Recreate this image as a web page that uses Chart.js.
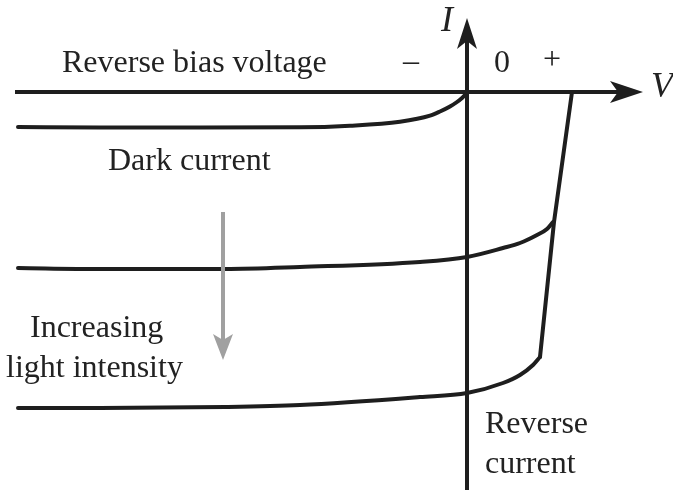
<!DOCTYPE html>
<html>
<head>
<meta charset="utf-8">
<script src="https://cdn.jsdelivr.net/npm/chart.js@4"></script>
<style>
  html, body { margin: 0; padding: 0; background: #ffffff; }
  #wrap { width: 673px; height: 490px; position: relative; }
</style>
</head>
<body>
<div id="wrap"><canvas id="ivChart"></canvas></div>
<script>
/* ------------------------------------------------------------
   Photodiode I-V characteristic: dark curve plus two lit curves.
   Units are arbitrary (V, I); origin where the axes cross.
------------------------------------------------------------ */

// Dark current curve (reverse bias side, runs into the origin)
var darkV = [-44.9, -36.7, -26.7, -16.7, -11.7, -6.7, -3.7, -2.7, -1.7, -1.0, -0.5, -0.2, 0];
var darkI = [-3.5, -3.55, -3.55, -3.53, -3.37, -2.97, -2.37, -1.95, -1.45, -1.0, -0.6, -0.3, 0];

// Medium light intensity
var midV = [-44.9, -36.7, -24.2, -16.7, -4.7, 0, 3.6, 5.3, 7.0, 8.0, 8.6];
var midI = [-17.6, -17.7, -17.7, -17.5, -17.0, -16.5, -15.6, -15.1, -14.3, -13.7, -13.0];

// High light intensity
var highV = [-44.9, -36.7, -24.2, -16.7, -4.7, 0, 3.6, 5.3, 6.6, 7.3];
var highI = [-31.6, -31.6, -31.5, -31.3, -30.5, -30.1, -29.1, -28.3, -27.3, -26.5];

// Forward side: the steep segment linking the curves
var fwdV = [10.5, 8.7, 7.3];
var fwdI = [0, -13.0, -26.5];

// View window and axis extents
var V_MIN = -46.7, V_MAX = 20.6;
var I_MIN = -39.8, I_MAX = 9.2;
var V_AXIS = [-45.2, 17.6];   // horizontal axis from / to (arrow tip)
var I_AXIS = [-39.8, 7.4];    // vertical axis from / to (arrow tip)

// Grey "increasing light" arrow
var lightArrowV = -24.4;
var lightArrowI = [-12.0, -26.8];

var INK = '#1e1e1e';
var SERIF = '"Liberation Serif", "DejaVu Serif", serif';

function pts(xs, ys) {
  return xs.map(function (x, i) { return { x: x, y: ys[i] }; });
}

function curve(label, xs, ys, smooth) {
  return {
    label: label,
    data: pts(xs, ys),
    showLine: true,
    borderColor: INK,
    borderWidth: 4,
    pointRadius: 0,
    fill: false,
    cubicInterpolationMode: smooth ? 'monotone' : 'default',
    tension: 0,
    borderCapStyle: 'round',
    borderJoinStyle: 'round'
  };
}

/* text placed in data units: [text, V, I(baseline), font, align] */
var texts = [
  ['Reverse bias voltage', -40.5, 2.0, '32px ' + SERIF, 'left'],
  ['\u2013', -6.4, 2.1, '32px ' + SERIF, 'left'],
  ['0', 2.7, 2.0, '32px ' + SERIF, 'left'],
  ['+', 7.6, 2.3, '32px ' + SERIF, 'left'],
  ['I', -2.6, 6.1, 'italic 36px ' + SERIF, 'left'],
  ['V', 18.4, -0.5, 'italic 36px ' + SERIF, 'left'],
  ['Dark current', -35.9, -7.8, '32px ' + SERIF, 'left'],
  ['Increasing', -43.7, -24.5, '32px ' + SERIF, 'left'],
  ['light intensity', -46.1, -28.5, '32px ' + SERIF, 'left'],
  ['Reverse', 1.8, -34.1, '32px ' + SERIF, 'left'],
  ['current', 1.8, -38.1, '32px ' + SERIF, 'left']
];

// barbed arrow head: tip at (tx,ty), pointing along angle a
function arrowHead(ctx, tx, ty, a, len, half, notch, color) {
  ctx.save();
  ctx.translate(tx, ty);
  ctx.rotate(a);
  ctx.beginPath();
  ctx.moveTo(0, 0);
  ctx.lineTo(-len, -half);
  ctx.lineTo(-len + notch, 0);
  ctx.lineTo(-len, half);
  ctx.closePath();
  ctx.fillStyle = color;
  ctx.fill();
  ctx.restore();
}

var decorPlugin = {
  id: 'decor',
  afterDatasetsDraw: function (chart) {
    var ctx = chart.ctx;
    var sx = chart.scales.x, sy = chart.scales.y;
    var x0 = sx.getPixelForValue(0), y0 = sy.getPixelForValue(0);

    ctx.save();
    ctx.strokeStyle = INK;
    ctx.lineWidth = 4;

    // V axis
    var vx1 = sx.getPixelForValue(V_AXIS[0]);
    var vx2 = sx.getPixelForValue(V_AXIS[1]);
    ctx.beginPath();
    ctx.moveTo(vx1, y0);
    ctx.lineTo(vx2 - 20, y0);
    ctx.stroke();
    arrowHead(ctx, vx2, y0, 0, 33, 11, 8, INK);

    // I axis
    var iy1 = sy.getPixelForValue(I_AXIS[0]);
    var iy2 = sy.getPixelForValue(I_AXIS[1]);
    ctx.beginPath();
    ctx.moveTo(x0, iy1);
    ctx.lineTo(x0, iy2 + 18);
    ctx.stroke();
    arrowHead(ctx, x0, iy2, -Math.PI / 2, 31, 10, 8, INK);

    // grey light-intensity arrow
    var gx = sx.getPixelForValue(lightArrowV);
    var gy1 = sy.getPixelForValue(lightArrowI[0]);
    var gy2 = sy.getPixelForValue(lightArrowI[1]);
    ctx.strokeStyle = '#a0a0a0';
    ctx.lineWidth = 4;
    ctx.beginPath();
    ctx.moveTo(gx, gy1);
    ctx.lineTo(gx, gy2 - 15);
    ctx.stroke();
    arrowHead(ctx, gx, gy2, Math.PI / 2, 26, 10, 6, '#a0a0a0');

    // labels
    ctx.fillStyle = '#222222';
    ctx.textBaseline = 'alphabetic';
    texts.forEach(function (t) {
      ctx.font = t[3];
      ctx.textAlign = t[4];
      ctx.fillText(t[0], sx.getPixelForValue(t[1]), sy.getPixelForValue(t[2]));
    });
    ctx.restore();
  }
};

new Chart(document.getElementById('ivChart'), {
  type: 'scatter',
  data: {
    datasets: [
      curve('Dark', darkV, darkI, true),
      curve('Light 1', midV, midI, true),
      curve('Light 2', highV, highI, true),
      curve('Forward', fwdV, fwdI, false)
    ]
  },
  options: {
    responsive: true,
    maintainAspectRatio: false,
    animation: false,
    layout: { padding: 0 },
    plugins: { legend: { display: false }, tooltip: { enabled: false } },
    scales: {
      x: { type: 'linear', display: false, min: V_MIN, max: V_MAX },
      y: { type: 'linear', display: false, min: I_MIN, max: I_MAX }
    }
  },
  plugins: [decorPlugin]
});
</script>
</body>
</html>
